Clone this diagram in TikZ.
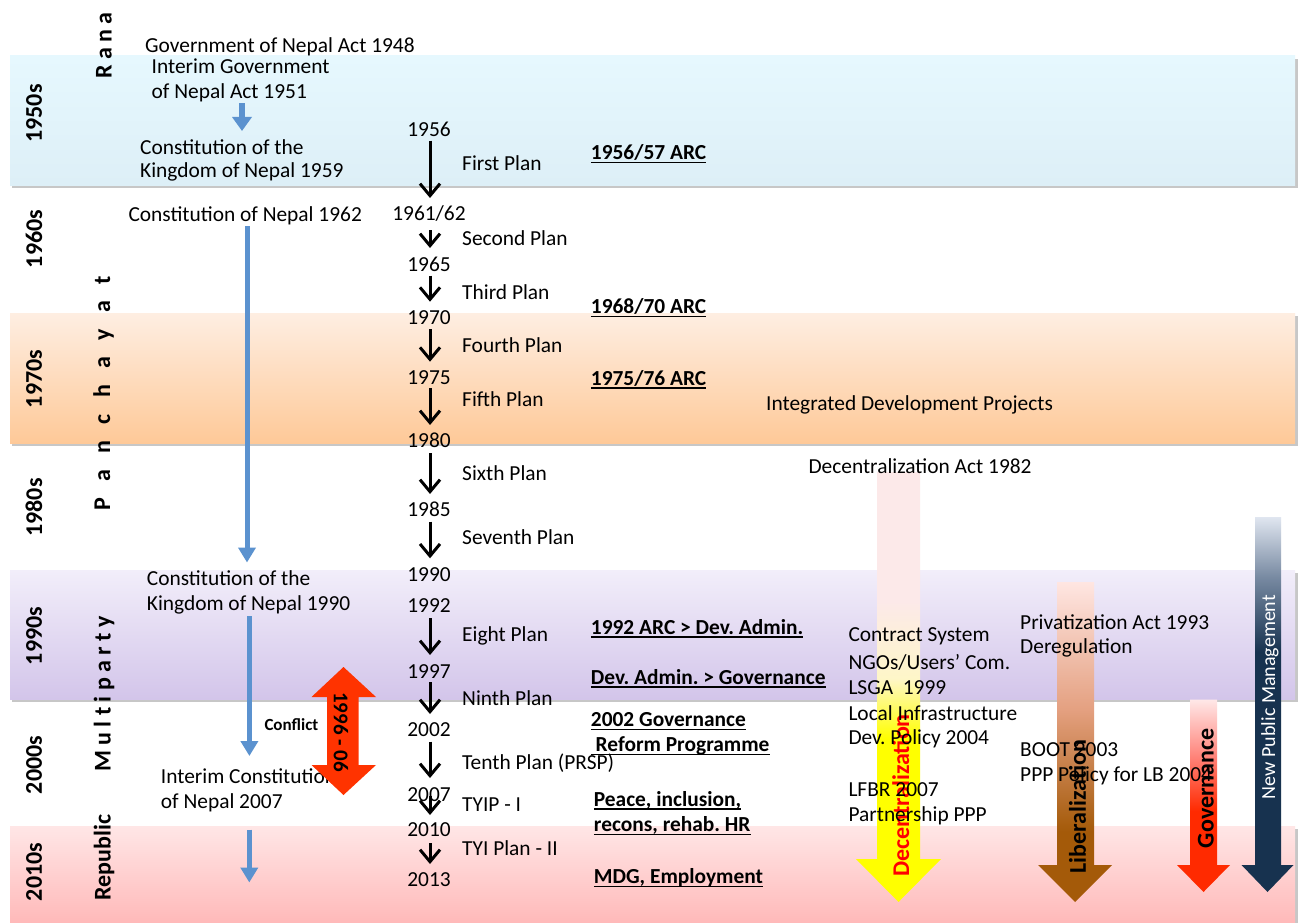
\documentclass[tikz,border=0pt]{standalone}
\usepackage{fontspec}
\setmainfont{Carlito}
\usetikzlibrary{arrows.meta}
\frenchspacing

% palette
\definecolor{conblue}{RGB}{91,146,207}
\definecolor{bandBlueT}{RGB}{230,248,254}
\definecolor{bandBlueM}{RGB}{196,238,252}
\definecolor{bandBlueB}{RGB}{221,239,247}
\definecolor{bandOrT}{RGB}{254,238,226}
\definecolor{bandOrB}{RGB}{254,201,152}
\definecolor{bandPuT}{RGB}{242,238,250}
\definecolor{bandPuB}{RGB}{211,197,234}
\definecolor{bandPiT}{RGB}{255,230,230}
\definecolor{bandPiB}{RGB}{255,185,185}
\definecolor{conflictred}{RGB}{255,51,0}
\definecolor{decY}{RGB}{255,255,0}
\definecolor{decP}{RGB}{252,233,233}
\definecolor{decM}{RGB}{254,246,200}
\definecolor{libB}{RGB}{164,90,9}
\definecolor{libM}{RGB}{228,160,128}
\definecolor{libP}{RGB}{255,230,226}
\definecolor{govR}{RGB}{255,42,0}
\definecolor{govM}{RGB}{255,130,120}
\definecolor{govP}{RGB}{255,232,232}
\definecolor{npmD}{RGB}{23,50,79}
\definecolor{npmM}{RGB}{120,138,162}
\definecolor{npmL}{RGB}{224,230,240}

% vertical shadings for the trend arrows (path spans 25bp..75bp)
\pgfdeclareverticalshading{decshade}{100bp}{color(0bp)=(decY); color(44bp)=(decY); color(51bp)=(decM); color(60bp)=(decP); color(100bp)=(decP)}
\pgfdeclareverticalshading{libshade}{100bp}{color(0bp)=(libB); color(36bp)=(libB); color(55bp)=(libM); color(75bp)=(libP); color(100bp)=(libP)}
\pgfdeclareverticalshading{govshade}{100bp}{color(0bp)=(govR); color(46bp)=(govR); color(60bp)=(govM); color(75bp)=(govP); color(100bp)=(govP)}
\pgfdeclareverticalshading{npmshade}{100bp}{color(0bp)=(npmD); color(57bp)=(npmD); color(67bp)=(npmM); color(75bp)=(npmL); color(100bp)=(npmL)}

% underline at a fixed depth below the baseline
\newcommand\ulined[1]{\leavevmode\setbox0\hbox{#1}\rlap{\rule[-3.7pt]{\wd0}{1.5pt}}\box0}

\tikzset{
  txt/.style={font=\fontsize{21.4}{25}\selectfont, inner sep=0pt, anchor=base west},
  yr/.style={font=\fontsize{21.4}{25}\selectfont, inner sep=0pt, anchor=base},
  arc/.style={font=\bfseries\fontsize{21.4}{25}\selectfont, inner sep=0pt, anchor=base west},
  decade/.style={font=\bfseries\fontsize{24}{28}\selectfont, inner sep=0pt, rotate=90},
  era/.style={font=\bfseries\fontsize{24}{28}\selectfont, inner sep=0pt, rotate=90},
  trendlabel/.style={font=\bfseries\fontsize{24}{28}\selectfont, inner sep=0pt, rotate=90},
  tl/.style={line width=3pt, -{Straight Barb[length=12pt,width=20pt]}},
  conarrow/.style={draw=conblue, line width=5pt, -{Triangle[length=15pt,width=17pt]}},
  shadowbox/.style={fill=black, opacity=0.22},
}

\begin{document}
\begin{tikzpicture}[x=1pt,y=-1pt]
\useasboundingbox (0,0) rectangle (1301,923);
\fill[white] (0,0) rectangle (1301,923);

% ---------- decade bands ----------
\fill[shadowbox] (12,59) rectangle (1298,188);
\shade[top color=bandBlueT, middle color=bandBlueM, bottom color=bandBlueB] (10,56) rectangle (1295,185);
\fill[shadowbox] (12,316) rectangle (1298,446);
\shade[top color=bandOrT, bottom color=bandOrB] (10,313) rectangle (1295,443);
\fill[shadowbox] (12,573) rectangle (1298,702);
\shade[top color=bandPuT, bottom color=bandPuB] (10,570) rectangle (1295,699);
\fill[shadowbox] (12,829) rectangle (1298,923);
\shade[top color=bandPiT, bottom color=bandPiB] (10,826.5) rectangle (1295,923);

% ---------- decades ----------
\node[decade] (d50) at (34,113.5) {1950s};
\node[decade] (d60) at (34,239) {1960s};
\node[decade] (d70) at (34,379) {1970s};
\node[decade] (d80) at (34,507.5) {1980s};
\node[decade] (d90) at (34,636) {1990s};
\node[decade] (d00) at (34,765) {2000s};
\node[decade] (d10) at (34,872) {2010s};

% ---------- political eras ----------
\node[era] (rana) at (104,45.5) {R a n a};
\node[era] (panch) at (103.5,393.5) {P~~~a~~~n~~~c~~~h~~~a~~~y~~~a~~~t};
\node[era] (multi) at (104,694) {M u l t i p a r t y};
\node[era] (repub) at (104,857.7) {Republic};

% ---------- constitutions ----------
\node[txt] (gov48) at (145,53) {Government of Nepal Act 1948};
\node[txt] (int51a) at (151.5,74) {Interim Government};
\node[txt] (int51b) at (151.5,98.3) {of Nepal Act 1951};
\node[txt] (con59a) at (140,154) {Constitution of the};
\node[txt] (con59b) at (140,177.7) {Kingdom of Nepal 1959};
\node[txt] (con62) at (128.3,221) {Constitution of Nepal 1962};
\node[txt] (con90a) at (146.7,585) {Constitution of the};
\node[txt] (con90b) at (146.7,610) {Kingdom of Nepal 1990};
\node[txt] (int07a) at (160.7,783.3) {Interim Constitution};
\node[txt] (int07b) at (160.7,808.3) {of Nepal 2007};
\node[anchor=base west, inner sep=0pt, font=\bfseries\fontsize{17}{20}\selectfont] (conflict) at (264.3,730.7) {Conflict};

\coordinate (c1a) at (242,103.5); \coordinate (c1b) at (242,131);
\coordinate (c2a) at (247,226); \coordinate (c2b) at (247,562.5);
\coordinate (c3a) at (249.4,616); \coordinate (c3b) at (249.4,756);
\coordinate (c4a) at (249.3,829.5); \coordinate (c4b) at (249.3,882.5);
\draw[draw=conblue, line width=6.5pt, -{Triangle[length=14pt,width=19pt]}] (c1a) -- (c1b);
\draw[conarrow] (c2a) -- (c2b);
\draw[conarrow] (c3a) -- (c3b);
\draw[conarrow] (c4a) -- (c4b);

% ---------- conflict period ----------
\fill[conflictred] (343.5,667) -- (376,697) -- (358.5,697) -- (358.5,765) -- (376,765)
  -- (343.5,795) -- (311.5,765) -- (327,765) -- (327,697) -- (311.5,697) -- cycle;
\node[font=\bfseries\fontsize{21}{25}\selectfont, inner sep=0pt, rotate=-90] (war) at (341,732) {1996 - 06};

% ---------- plan periods ----------
\node[yr] (y56) at (429,136) {1956};
\node[yr] (y61) at (429,220.7) {1961/62};
\node[yr] (y65) at (429,271) {1965};
\node[yr] (y70) at (429,324) {1970};
\node[yr] (y75) at (429,384) {1975};
\node[yr] (y80) at (429,447.5) {1980};
\node[yr] (y85) at (429,516.7) {1985};
\node[yr] (y90) at (429,581.7) {1990};
\node[yr] (y92) at (429,612.7) {1992};
\node[yr] (y97) at (429,678.3) {1997};
\node[yr] (y02) at (429,736.7) {2002};
\node[yr] (y07) at (429,801.7) {2007};
\node[yr] (y10) at (429,836.7) {2010};
\node[yr] (y13) at (429,886.7) {2013};

\foreach \n/\a/\b in {p1/140.7/198, p2/230/248, p3/275.7/301.7, p4/329/361.7, p5/388/425,
                      p6/453/494, p7/521.7/558.3, p8/618/655, p9/682/714, p10/741.7/778,
                      p11/796/815, p12/843/864}{
  \coordinate (\n a) at (430,\a);
  \coordinate (\n b) at (430,\b);
  \draw[tl] (\n a) -- (\n b);
}

\node[txt] (pl1) at (462,170.7) {First Plan};
\node[txt] (pl2) at (462,245.7) {Second Plan};
\node[txt] (pl3) at (462,299.3) {Third Plan};
\node[txt] (pl4) at (462,352.3) {Fourth Plan};
\node[txt] (pl5) at (462,406) {Fifth Plan};
\node[txt] (pl6) at (462,480) {Sixth Plan};
\node[txt] (pl7) at (462,544) {Seventh Plan};
\node[txt] (pl8) at (462,641) {Eight Plan};
\node[txt] (pl9) at (462,705) {Ninth Plan};
\node[txt] (pl10) at (462,769.3) {Tenth Plan (PRSP)};
\node[txt] (pl11) at (462,811.7) {TYIP - I};
\node[txt] (pl12) at (462,855) {TYI Plan - II};

% ---------- administrative reform ----------
\node[arc] (arc56) at (590.7,159.3) {\ulined{1956/57 ARC}};
\node[arc] (arc68) at (590.7,313.3) {\ulined{1968/70 ARC}};
\node[arc] (arc75) at (590.7,385) {\ulined{1975/76 ARC}};
\node[arc] (arc92) at (590.7,634) {\ulined{1992 ARC > Dev. Admin.}};
\node[arc] (arcgv) at (590.7,684) {\ulined{Dev. Admin. > Governance}};
\node[arc] (grp1) at (590.7,726.7) {\ulined{2002 Governance}};
\node[arc] (grp2) at (590.7,751.7) {\ulined{\ Reform Programme}};
\node[arc] (pir1) at (593.7,806) {\ulined{Peace, inclusion,}};
\node[arc] (pir2) at (593.7,831.7) {\ulined{recons, rehab. HR}};
\node[arc] (mdg) at (593.7,883.3) {\ulined{MDG, Employment}};

% ---------- trend arrows ----------
\shade[shading=decshade] (877,472) -- (920,472) -- (920,859) -- (941,859) -- (898.5,902)
  -- (856,859) -- (877,859) -- cycle;
\shade[shading=libshade] (1057,582) -- (1094,582) -- (1094,865) -- (1112,865) -- (1075,902)
  -- (1038,865) -- (1057,865) -- cycle;
\shade[shading=govshade] (1190,699.5) -- (1217,699.5) -- (1217,865) -- (1230,865) -- (1203.5,892)
  -- (1177,865) -- (1190,865) -- cycle;
\shade[shading=npmshade] (1255,517) -- (1281,517) -- (1281,865) -- (1293.5,865) -- (1267.5,892)
  -- (1241.5,865) -- (1255,865) -- cycle;

\node[trendlabel, text=red] (decl) at (900.8,795.5) {Decentralization};
\node[trendlabel] (libl) at (1077.5,806.5) {Liberalization};
\node[trendlabel] (govl) at (1205.8,788.3) {Governance};
\node[font=\fontsize{20}{24}\selectfont, inner sep=0pt, rotate=90, text=white] (npml) at (1270,697) {New Public Management};

% ---------- reforms ----------
\node[txt] (idp) at (766,410) {Integrated Development Projects};
\node[txt] (dact) at (808.3,473.3) {Decentralization Act 1982};
\node[txt] (r1) at (848.3,641.7) {Contract System};
\node[txt] (r2) at (848.3,669) {NGOs/Users' Com.};
\node[txt] (r3) at (848.3,694) {LSGA\ \ 1999};
\node[txt] (r4) at (848.3,720) {Local Infrastructure};
\node[txt] (r5) at (848.3,744) {Dev. Policy 2004};
\node[txt] (r6) at (848.3,796.7) {LFBR 2007};
\node[txt] (r7) at (848.3,821) {Partnership PPP};
\node[txt] (q1) at (1020,629.3) {Privatization Act 1993};
\node[txt] (q2) at (1020,653.3) {Deregulation};
\node[txt] (q3) at (1020,756.7) {BOOT 2003};
\node[txt] (q4) at (1020,781.7) {PPP Policy for LB 2004};
\end{tikzpicture}
\end{document}
